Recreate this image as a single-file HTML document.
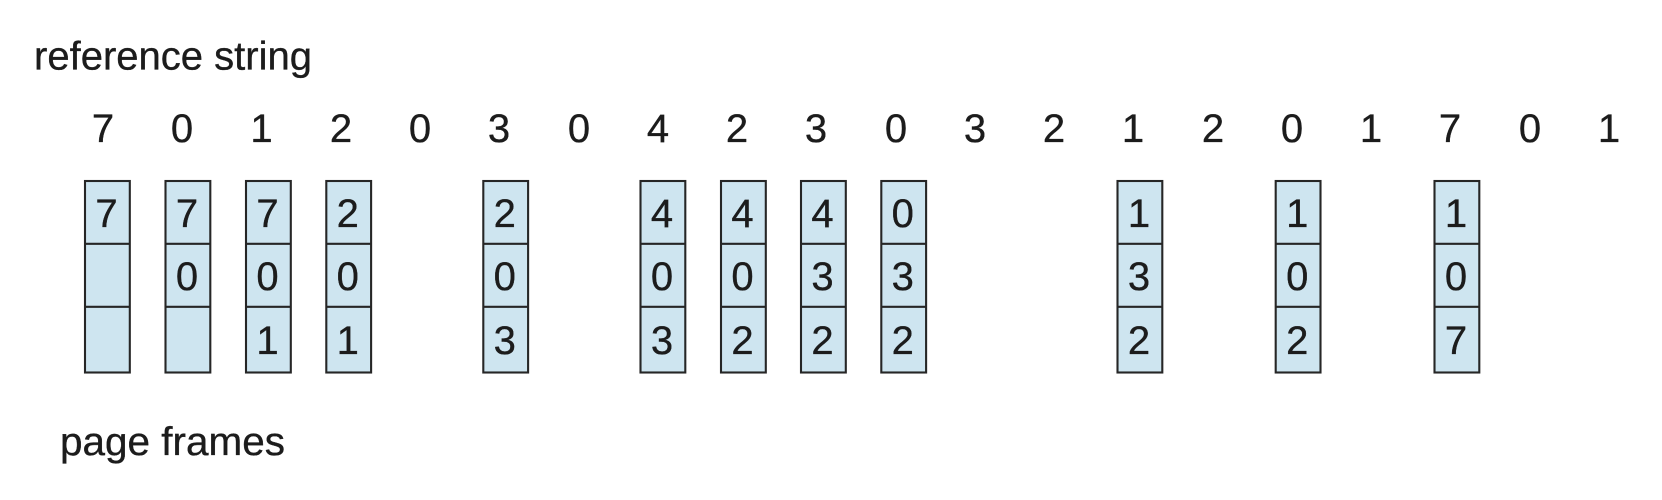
<!DOCTYPE html>
<html>
<head>
<meta charset="utf-8">
<style>
html,body{margin:0;padding:0;background:#fff;width:1662px;height:500px;overflow:hidden}
svg{display:block}
text{font-family:"Liberation Sans",Arial,sans-serif;font-size:40px;fill:#1c1c1c;stroke:#1c1c1c;stroke-width:.35}
.d text{text-anchor:middle}
rect,line{stroke:#262626;stroke-width:2.1;fill:#cee5f0}
</style>
</head>
<body>
<svg xmlns="http://www.w3.org/2000/svg" width="1662" height="500" viewBox="0 0 1662 500">
<text x="34" y="69.5" textLength="278" lengthAdjust="spacingAndGlyphs">reference string</text>
<text x="60" y="455" textLength="225" lengthAdjust="spacingAndGlyphs">page frames</text>
<g class="d">
<text x="103" y="142">7</text><text x="182" y="142">0</text><text x="261.5" y="142">1</text><text x="341" y="142">2</text><text x="420" y="142">0</text>
<text x="499" y="142">3</text><text x="579" y="142">0</text><text x="658" y="142">4</text><text x="737" y="142">2</text><text x="816" y="142">3</text>
<text x="896" y="142">0</text><text x="975" y="142">3</text><text x="1054" y="142">2</text><text x="1133" y="142">1</text><text x="1213" y="142">2</text>
<text x="1292" y="142">0</text><text x="1371" y="142">1</text><text x="1450" y="142">7</text><text x="1530" y="142">0</text><text x="1609" y="142">1</text>
</g>
<g><rect x="85" y="181" width="44.8" height="191.5"/><line x1="85" x2="129.8" y1="243.8" y2="243.8"/><line x1="85" x2="129.8" y1="306.8" y2="306.8"/></g>
<g><rect x="165.5" y="181" width="44.8" height="191.5"/><line x1="165.5" x2="210.3" y1="243.8" y2="243.8"/><line x1="165.5" x2="210.3" y1="306.8" y2="306.8"/></g>
<g><rect x="246" y="181" width="44.8" height="191.5"/><line x1="246" x2="290.8" y1="243.8" y2="243.8"/><line x1="246" x2="290.8" y1="306.8" y2="306.8"/></g>
<g><rect x="326.3" y="181" width="44.8" height="191.5"/><line x1="326.3" x2="371.1" y1="243.8" y2="243.8"/><line x1="326.3" x2="371.1" y1="306.8" y2="306.8"/></g>
<g><rect x="483.3" y="181" width="44.8" height="191.5"/><line x1="483.3" x2="528.1" y1="243.8" y2="243.8"/><line x1="483.3" x2="528.1" y1="306.8" y2="306.8"/></g>
<g><rect x="640.5" y="181" width="44.8" height="191.5"/><line x1="640.5" x2="685.3" y1="243.8" y2="243.8"/><line x1="640.5" x2="685.3" y1="306.8" y2="306.8"/></g>
<g><rect x="721" y="181" width="44.8" height="191.5"/><line x1="721" x2="765.8" y1="243.8" y2="243.8"/><line x1="721" x2="765.8" y1="306.8" y2="306.8"/></g>
<g><rect x="801" y="181" width="44.8" height="191.5"/><line x1="801" x2="845.8" y1="243.8" y2="243.8"/><line x1="801" x2="845.8" y1="306.8" y2="306.8"/></g>
<g><rect x="881.3" y="181" width="44.8" height="191.5"/><line x1="881.3" x2="926.1" y1="243.8" y2="243.8"/><line x1="881.3" x2="926.1" y1="306.8" y2="306.8"/></g>
<g><rect x="1117.5" y="181" width="44.8" height="191.5"/><line x1="1117.5" x2="1162.3" y1="243.8" y2="243.8"/><line x1="1117.5" x2="1162.3" y1="306.8" y2="306.8"/></g>
<g><rect x="1275.7" y="181" width="44.8" height="191.5"/><line x1="1275.7" x2="1320.5" y1="243.8" y2="243.8"/><line x1="1275.7" x2="1320.5" y1="306.8" y2="306.8"/></g>
<g><rect x="1434.5" y="181" width="44.8" height="191.5"/><line x1="1434.5" x2="1479.3" y1="243.8" y2="243.8"/><line x1="1434.5" x2="1479.3" y1="306.8" y2="306.8"/></g>
<g class="d">
<text x="106.5" y="227">7</text>
<text x="187" y="227">7</text><text x="187" y="290">0</text>
<text x="267.5" y="227">7</text><text x="267.5" y="290">0</text><text x="267.5" y="354">1</text>
<text x="347.8" y="227">2</text><text x="347.8" y="290">0</text><text x="347.8" y="354">1</text>
<text x="504.8" y="227">2</text><text x="504.8" y="290">0</text><text x="504.8" y="354">3</text>
<text x="662" y="227">4</text><text x="662" y="290">0</text><text x="662" y="354">3</text>
<text x="742.5" y="227">4</text><text x="742.5" y="290">0</text><text x="742.5" y="354">2</text>
<text x="822.5" y="227">4</text><text x="822.5" y="290">3</text><text x="822.5" y="354">2</text>
<text x="902.8" y="227">0</text><text x="902.8" y="290">3</text><text x="902.8" y="354">2</text>
<text x="1139" y="227">1</text><text x="1139" y="290">3</text><text x="1139" y="354">2</text>
<text x="1297.2" y="227">1</text><text x="1297.2" y="290">0</text><text x="1297.2" y="354">2</text>
<text x="1456" y="227">1</text><text x="1456" y="290">0</text><text x="1456" y="354">7</text>
</g>
</svg>
</body>
</html>
